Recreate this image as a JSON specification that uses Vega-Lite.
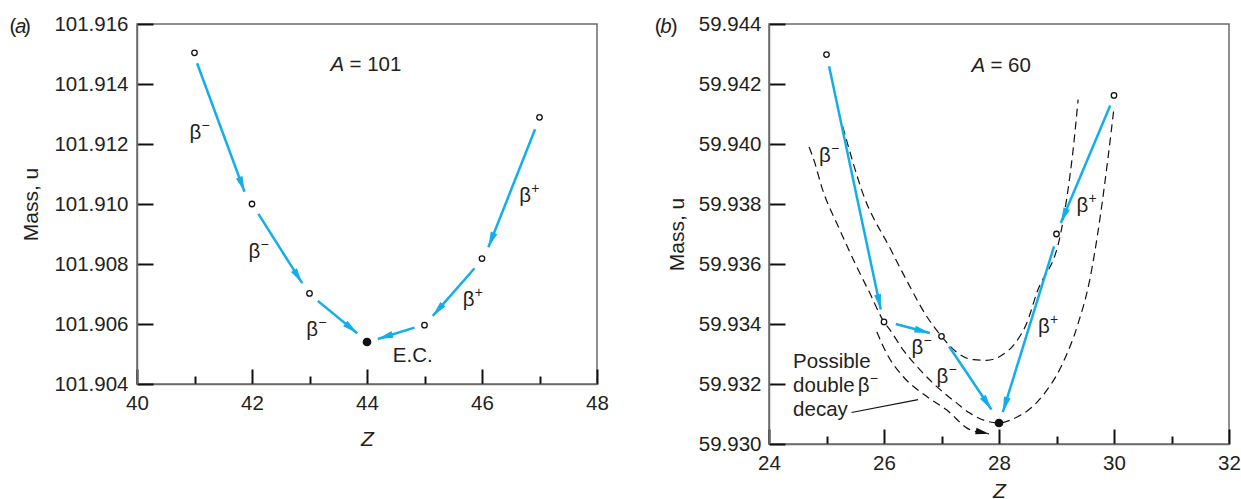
{
  "$schema": "https://vega.github.io/schema/vega-lite/v6.json",
  "autosize": {"type": "none"},
  "padding": {"left": 137, "top": 24, "right": 1104, "bottom": 475},
  "background": "white",
  "spacing": 172,
  "bounds": "flush",
  "config": {
    "font": "Liberation Sans",
    "view": {"stroke": "#6b6b6b", "strokeWidth": 1.5},
    "axis": {
      "grid": false,
      "domainColor": "#6b6b6b",
      "domainWidth": 1.5,
      "tickColor": "#111111",
      "tickWidth": 2,
      "labelFont": "Liberation Sans",
      "labelFontSize": 20.5,
      "labelColor": "#231f20",
      "labelFlush": false,
      "labelOverlap": false,
      "titleFont": "Liberation Sans",
      "titleFontSize": 21,
      "titleFontWeight": "normal",
      "titleColor": "#231f20"
    },
    "text": {"font": "Liberation Sans", "fontSize": 20.5, "color": "#231f20"}
  },
  "datasets": {
    "ptsA": [
      {"z": 41, "m": 101.91504, "stable": false},
      {"z": 42, "m": 101.91, "stable": false},
      {"z": 43, "m": 101.90702, "stable": false},
      {"z": 44, "m": 101.9054, "stable": true},
      {"z": 45, "m": 101.90596, "stable": false},
      {"z": 46, "m": 101.90818, "stable": false},
      {"z": 47, "m": 101.91289, "stable": false}
    ],
    "arrowsA": [
      {"z0": 41.045, "m0": 101.91469, "z": 41.87, "m": 101.91041},
      {"z0": 42.111, "m0": 101.90967, "z": 42.873, "m": 101.90736},
      {"z0": 43.144, "m0": 101.90677, "z": 43.83, "m": 101.90569},
      {"z0": 44.826, "m0": 101.90588, "z": 44.188, "m": 101.9055},
      {"z0": 45.87, "m0": 101.90786, "z": 45.144, "m": 101.90627},
      {"z0": 46.923, "m0": 101.91249, "z": 46.111, "m": 101.90856}
    ],
    "betaA": [
      {"s": "−", "z": 40.913, "m": 101.91237},
      {"s": "−", "z": 41.939, "m": 101.9084},
      {"s": "−", "z": 42.943, "m": 101.9058},
      {"s": "+", "z": 46.649, "m": 101.91027},
      {"s": "+", "z": 45.666, "m": 101.9068}
    ],
    "textA": [
      {"t": "E.C.", "z": 44.449, "m": 101.90494},
      {"t": "= 101", "z": 43.696, "m": 101.91463},
      {"t": "(", "z": 37.783, "m": 101.9159},
      {"t": ")", "z": 38.035, "m": 101.9159}
    ],
    "italA": [
      {"t": "A", "z": 43.365, "m": 101.91463},
      {"t": "a", "z": 37.878, "m": 101.9159}
    ],
    "ptsB": [
      {"z": 25, "m": 59.94298, "stable": false},
      {"z": 26, "m": 59.93407, "stable": false},
      {"z": 27, "m": 59.93359, "stable": false},
      {"z": 28, "m": 59.9307, "stable": true},
      {"z": 29, "m": 59.937, "stable": false},
      {"z": 30, "m": 59.94162, "stable": false}
    ],
    "arrowsB": [
      {"z0": 25.045, "m0": 59.94259, "z": 25.944, "m": 59.93448},
      {"z0": 26.205, "m0": 59.934, "z": 26.797, "m": 59.9337},
      {"z0": 27.132, "m0": 59.93325, "z": 27.868, "m": 59.93115},
      {"z0": 29.934, "m0": 59.94128, "z": 29.075, "m": 59.93737},
      {"z0": 28.958, "m0": 59.93659, "z": 28.066, "m": 59.93106}
    ],
    "curvesB": [
      {"c": "oo", "z": 25.283, "m": 59.94058},
      {"c": "oo", "z": 25.463, "m": 59.93937},
      {"c": "oo", "z": 25.609, "m": 59.93848},
      {"c": "oo", "z": 26.118, "m": 59.93648},
      {"c": "oo", "z": 26.414, "m": 59.93538},
      {"c": "oo", "z": 26.744, "m": 59.93425},
      {"c": "oo", "z": 27.0, "m": 59.93359},
      {"c": "oo", "z": 27.283, "m": 59.93303},
      {"c": "oo", "z": 27.55, "m": 59.93281},
      {"c": "oo", "z": 27.783, "m": 59.93279},
      {"c": "oo", "z": 28.014, "m": 59.93292},
      {"c": "oo", "z": 28.283, "m": 59.93337},
      {"c": "oo", "z": 28.483, "m": 59.93403},
      {"c": "oo", "z": 28.657, "m": 59.93504},
      {"c": "oo", "z": 29.075, "m": 59.93704},
      {"c": "oo", "z": 29.174, "m": 59.93814},
      {"c": "oo", "z": 29.289, "m": 59.93981},
      {"c": "oo", "z": 29.376, "m": 59.94148},
      {"c": "ee", "z": 24.697, "m": 59.9399},
      {"c": "ee", "z": 24.797, "m": 59.93937},
      {"c": "ee", "z": 24.913, "m": 59.93859},
      {"c": "ee", "z": 25.231, "m": 59.93714},
      {"c": "ee", "z": 25.522, "m": 59.93592},
      {"c": "ee", "z": 25.753, "m": 59.93503},
      {"c": "ee", "z": 26.0, "m": 59.93407},
      {"c": "ee", "z": 26.101, "m": 59.93381},
      {"c": "ee", "z": 26.332, "m": 59.93314},
      {"c": "ee", "z": 26.623, "m": 59.93248},
      {"c": "ee", "z": 26.913, "m": 59.93192},
      {"c": "ee", "z": 27.261, "m": 59.93137},
      {"c": "ee", "z": 27.492, "m": 59.93103},
      {"c": "ee", "z": 28.0, "m": 59.9307},
      {"c": "ee", "z": 28.216, "m": 59.93081},
      {"c": "ee", "z": 28.75, "m": 59.93159},
      {"c": "ee", "z": 29.083, "m": 59.93259},
      {"c": "ee", "z": 29.37, "m": 59.93398},
      {"c": "ee", "z": 29.579, "m": 59.93548},
      {"c": "ee", "z": 29.753, "m": 59.93748},
      {"c": "ee", "z": 29.892, "m": 59.93948},
      {"c": "ee", "z": 30.0, "m": 59.94121},
      {"c": "db", "z": 25.875, "m": 59.93374},
      {"c": "db", "z": 26.043, "m": 59.93303},
      {"c": "db", "z": 26.332, "m": 59.93225},
      {"c": "db", "z": 26.739, "m": 59.93159},
      {"c": "db", "z": 27.087, "m": 59.93114},
      {"c": "db", "z": 27.492, "m": 59.93048},
      {"c": "db", "z": 27.826, "m": 59.93034}
    ],
    "dbHead": [
      {"z0": 27.492, "m0": 59.93048, "z": 27.826, "m": 59.93034}
    ],
    "leader": [
      {"z0": 25.435, "m0": 59.93105, "z": 26.593, "m": 59.93148}
    ],
    "betaB": [
      {"s": "−", "z": 24.871, "m": 59.93959},
      {"s": "+", "z": 29.348, "m": 59.93792},
      {"s": "+", "z": 28.68, "m": 59.9339},
      {"s": "−", "z": 26.478, "m": 59.93321},
      {"s": "−", "z": 26.913, "m": 59.93225},
      {"s": "−", "z": 25.544, "m": 59.93194}
    ],
    "textB": [
      {"t": "Possible", "z": 24.419, "m": 59.93273},
      {"t": "double", "z": 24.419, "m": 59.93194},
      {"t": "decay", "z": 24.419, "m": 59.93114},
      {"t": "= 60", "z": 27.85, "m": 59.9426},
      {"t": "(", "z": 22.014, "m": 59.94391},
      {"t": ")", "z": 22.292, "m": 59.94391}
    ],
    "italB": [
      {"t": "A", "z": 27.52, "m": 59.9426},
      {"t": "b", "z": 22.11, "m": 59.94391}
    ]
  },
  "hconcat": [
    {
      "width": 460,
      "height": 360,
      "encoding": {
        "x": {
          "field": "z", "type": "quantitative",
          "scale": {"domain": [40, 48], "nice": false, "zero": false},
          "axis": {
            "values": [40, 41, 42, 43, 44, 45, 46, 47, 48],
            "format": "d",
            "labelExpr": "datum.value % 2 === 0 ? datum.label : ''",
            "tickSize": {"condition": {"test": "datum.value % 2 === 0", "value": -15}, "value": -8},
            "labelPadding": 24,
            "title": "Z",
            "titleFontStyle": "italic",
            "titlePadding": 8
          }
        },
        "y": {
          "field": "m", "type": "quantitative",
          "scale": {"domain": [101.904, 101.916], "nice": false, "zero": false},
          "axis": {
            "values": [101.904, 101.906, 101.908, 101.91, 101.912, 101.914, 101.916],
            "format": ".3f",
            "tickSize": -16,
            "labelPadding": 25,
            "title": "Mass, u",
            "titlePadding": 12
          }
        }
      },
      "layer": [
        {
          "data": {"name": "arrowsA"},
          "mark": {"type": "rule", "color": "#13aeea", "strokeWidth": 2.5},
          "encoding": {"x2": {"field": "z0"}, "y2": {"field": "m0"}}
        },
        {
          "data": {"name": "arrowsA"},
          "mark": {
            "type": "point", "shape": "M0,0L0.5,2.2L-0.5,2.2Z", "size": 196,
            "filled": true, "color": "#13aeea", "opacity": 1, "strokeWidth": 0,
            "angle": {"expr": "atan2((datum.z-datum.z0)*57.5,(datum.m-datum.m0)*30000)*180/PI"}
          }
        },
        {
          "data": {"name": "ptsA"},
          "mark": {"type": "point", "shape": "circle", "stroke": "#111111", "strokeWidth": 1.3, "opacity": 1},
          "encoding": {
            "fill": {"condition": {"test": "datum.stable", "value": "#111111"}, "value": "white"},
            "size": {"condition": {"test": "datum.stable", "value": 55}, "value": 30}
          }
        },
        {
          "data": {"name": "betaA"},
          "mark": {"type": "text", "align": "left", "baseline": "middle"},
          "encoding": {"text": {"value": "β"}}
        },
        {
          "data": {"name": "betaA"},
          "mark": {"type": "text", "align": "left", "baseline": "middle", "fontSize": 14, "dx": 12, "dy": -7},
          "encoding": {"text": {"field": "s"}}
        },
        {
          "data": {"name": "textA"},
          "mark": {"type": "text", "align": "left", "baseline": "middle"},
          "encoding": {"text": {"field": "t"}}
        },
        {
          "data": {"name": "italA"},
          "mark": {"type": "text", "align": "left", "baseline": "middle", "fontStyle": "italic"},
          "encoding": {"text": {"field": "t"}}
        }
      ]
    },
    {
      "width": 460,
      "height": 420,
      "encoding": {
        "x": {
          "field": "z", "type": "quantitative",
          "scale": {"domain": [24, 32], "nice": false, "zero": false},
          "axis": {
            "values": [24, 25, 26, 27, 28, 29, 30, 31, 32],
            "format": "d",
            "labelExpr": "datum.value % 2 === 0 ? datum.label : ''",
            "tickSize": {"condition": {"test": "datum.value % 2 === 0", "value": -15}, "value": -8},
            "labelPadding": 24,
            "title": "Z",
            "titleFontStyle": "italic",
            "titlePadding": 0
          }
        },
        "y": {
          "field": "m", "type": "quantitative",
          "scale": {"domain": [59.93, 59.944], "nice": false, "zero": false},
          "axis": {
            "values": [59.93, 59.932, 59.934, 59.936, 59.938, 59.94, 59.942, 59.944],
            "format": ".3f",
            "tickSize": -16,
            "labelPadding": 24,
            "title": "Mass, u",
            "titlePadding": 11
          }
        }
      },
      "layer": [
        {
          "data": {"name": "curvesB"},
          "mark": {"type": "line", "color": "#111111", "strokeWidth": 1.2, "strokeDash": [8, 5], "interpolate": "monotone"},
          "encoding": {"detail": {"field": "c"}}
        },
        {
          "data": {"name": "leader"},
          "mark": {"type": "rule", "color": "#111111", "strokeWidth": 1.2},
          "encoding": {"x2": {"field": "z0"}, "y2": {"field": "m0"}}
        },
        {
          "data": {"name": "dbHead"},
          "mark": {
            "type": "point", "shape": "M0,0L0.55,2.2L-0.55,2.2Z", "size": 150,
            "filled": true, "color": "#111111", "opacity": 1, "strokeWidth": 0,
            "angle": {"expr": "atan2((datum.z-datum.z0)*57.5,(datum.m-datum.m0)*30000)*180/PI"}
          }
        },
        {
          "data": {"name": "arrowsB"},
          "mark": {"type": "rule", "color": "#13aeea", "strokeWidth": 2.5},
          "encoding": {"x2": {"field": "z0"}, "y2": {"field": "m0"}}
        },
        {
          "data": {"name": "arrowsB"},
          "mark": {
            "type": "point", "shape": "M0,0L0.5,2.2L-0.5,2.2Z", "size": 196,
            "filled": true, "color": "#13aeea", "opacity": 1, "strokeWidth": 0,
            "angle": {"expr": "atan2((datum.z-datum.z0)*57.5,(datum.m-datum.m0)*30000)*180/PI"}
          }
        },
        {
          "data": {"name": "ptsB"},
          "mark": {"type": "point", "shape": "circle", "stroke": "#111111", "strokeWidth": 1.3, "opacity": 1},
          "encoding": {
            "fill": {"condition": {"test": "datum.stable", "value": "#111111"}, "value": "white"},
            "size": {"condition": {"test": "datum.stable", "value": 55}, "value": 30}
          }
        },
        {
          "data": {"name": "betaB"},
          "mark": {"type": "text", "align": "left", "baseline": "middle"},
          "encoding": {"text": {"value": "β"}}
        },
        {
          "data": {"name": "betaB"},
          "mark": {"type": "text", "align": "left", "baseline": "middle", "fontSize": 14, "dx": 12, "dy": -7},
          "encoding": {"text": {"field": "s"}}
        },
        {
          "data": {"name": "textB"},
          "mark": {"type": "text", "align": "left", "baseline": "middle"},
          "encoding": {"text": {"field": "t"}}
        },
        {
          "data": {"name": "italB"},
          "mark": {"type": "text", "align": "left", "baseline": "middle", "fontStyle": "italic"},
          "encoding": {"text": {"field": "t"}}
        }
      ]
    }
  ]
}
